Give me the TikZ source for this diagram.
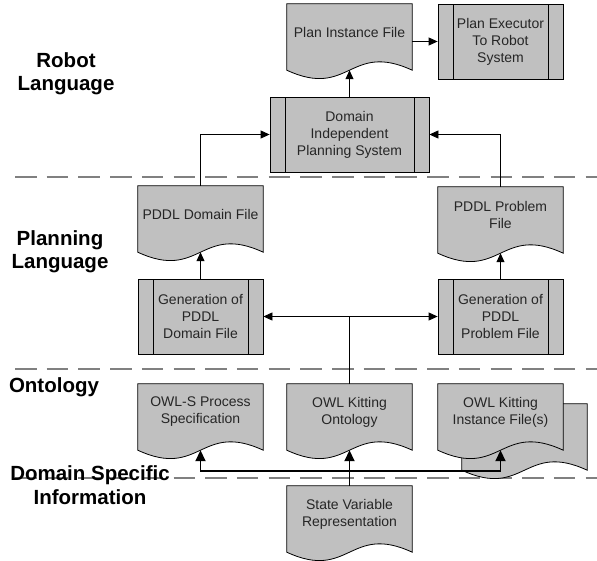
\documentclass[tikz,border=0pt]{standalone}
\usepackage{fontspec}
\setmainfont{Liberation Sans}
\usetikzlibrary{arrows.meta}
\pgfdeclarelayer{bg}
\pgfdeclarelayer{shp}
\pgfsetlayers{bg,shp,main}
\definecolor{shapefill}{HTML}{C0C0C0}
\definecolor{txtgrey}{HTML}{262626}
\definecolor{dashgrey}{HTML}{808080}
\tikzset{
  nodetext/.style={font=\fontsize{14}{17}\selectfont, text=txtgrey, align=center},
  docnode/.style={nodetext, minimum width=125pt, minimum height=56pt, inner sep=1pt},
  procnode/.style={nodetext, draw=black, fill=shapefill, line width=0.8pt,
    minimum width=125pt, minimum height=75pt, inner sep=0pt,
    path picture={\draw[line width=0.8pt]
      ([xshift=15pt]path picture bounding box.north west) -- ([xshift=15pt]path picture bounding box.south west)
      ([xshift=-15pt]path picture bounding box.north east) -- ([xshift=-15pt]path picture bounding box.south east);}},
  docsty/.style={draw=black, fill=shapefill, line width=0.8pt},
  lanelabel/.style={font=\bfseries\fontsize{20.5}{23.5}\selectfont, text=black, align=center},
  laneline/.style={draw=dashgrey, line width=2.3pt, dash pattern=on 21.5pt off 10.2pt},
  arr/.style={draw=black, line width=0.8pt, -{Triangle[length=9pt,width=8pt]}},
  arrboth/.style={draw=black, line width=0.8pt, {Triangle[length=9pt,width=8pt]}-{Triangle[length=9pt,width=8pt]}},
  plainline/.style={draw=black, line width=0.8pt},
  tarr/.style={draw=black, line width=1.8pt, -{Triangle[length=11pt,width=10pt]}},
}
\newcommand\docshape[2]{%
  \filldraw[docsty] ([shift={#2}]#1.north west) -- ([shift={#2}]#1.north east)
    -- ([shift={#2},yshift=-10pt]#1.south east)
    .. controls ([shift={#2},yshift=19pt]#1.south) and ([shift={#2},yshift=-39pt]#1.south)
    .. ([shift={#2},yshift=-10pt]#1.south west) -- cycle;}
\begin{document}
\begin{tikzpicture}[x=1pt,y=-1pt]
\useasboundingbox (0,0) rectangle (597,560);

% lane labels
\node[lanelabel] (lrobot) at (66,73.5) {Robot\\Language};
\node[lanelabel] (lplan) at (60,251.5) {Planning\\Language};
\node[lanelabel] (lonto) at (54,387) {Ontology};
\node[lanelabel] (ldom) at (90,485) {Domain Specific\\Information};

% document nodes (text)
\node[docnode] (pif) at (349.5,32) {Plan Instance File};
\node[docnode] (pddld) at (200.5,214) {PDDL Domain File};
\node[docnode] (pddlp) at (500.5,215) {PDDL Problem\\File};
\node[docnode] (owls) at (200.5,412) {OWL-S Process\\Specification};
\node[docnode] (owlk) at (349.5,412) {OWL Kitting\\Ontology};
\node[docnode] (owli) at (500.5,412) {OWL Kitting\\Instance File(s)};
\node[docnode] (svr) at (349.5,514) {State Variable\\Representation};

% process nodes
\node[procnode] (pe) at (500.5,41.5) {Plan Executor\\To Robot\\System};
\node[procnode, minimum width=159pt] (dips) at (349.5,134.5) {Domain\\Independent\\Planning System};
\node[procnode] (gend) at (200.5,316.5) {Generation of\\PDDL\\Domain File};
\node[procnode] (genp) at (500.5,316.5) {Generation of\\PDDL\\Problem File};

% lane separators
\begin{pgfonlayer}{bg}
\coordinate (sep1l) at (15,177); \coordinate (sep1r) at (597,177);
\coordinate (sep2l) at (15,369); \coordinate (sep2r) at (597,369);
\coordinate (sep3l) at (15,478); \coordinate (sep3r) at (597,478);
\draw[laneline] (sep1l) -- (sep1r);
\draw[laneline] (sep2l) -- (sep2r);
\draw[laneline] (sep3l) -- (sep3r);
\end{pgfonlayer}

% document outlines
\begin{pgfonlayer}{shp}
\docshape{pif}{(0,0)}
\docshape{pddld}{(0,0)}
\docshape{pddlp}{(0,0)}
\docshape{owls}{(0,0)}
\docshape{owlk}{(0,0)}
\docshape{owli}{(24pt,-20pt)}
\docshape{owli}{(0,0)}
\docshape{svr}{(0,0)}
\end{pgfonlayer}

% wave bottom points
\coordinate (pif-b) at ([yshift=-10pt]pif.south);
\coordinate (pddld-b) at ([yshift=-10pt]pddld.south);
\coordinate (pddlp-b) at ([yshift=-10pt]pddlp.south);
\coordinate (owls-b) at ([yshift=-10pt]owls.south);
\coordinate (owlk-b) at ([yshift=-10pt]owlk.south);
\coordinate (owli-b) at ([yshift=-10pt]owli.south);
\coordinate (j) at ([yshift=15pt]svr.north);

% connectors
\draw[arr] (pif.east |- pe.west) -- (pe.west);
\draw[arr] (dips.north) -- (pif-b);
\draw[arr] (pddld.north) |- (dips.west);
\draw[arr] (pddlp.north) |- (dips.east);
\draw[arr] (gend.north) -- (pddld-b);
\draw[arr] (genp.north) -- (pddlp-b);
\draw[arrboth] (gend.east) -- (genp.west);
\draw[plainline] (owlk.north) -- (owlk.north |- gend.east);
\draw[tarr] (j) -| (owls-b);
\draw[tarr] (j) -| (owli-b);
\draw[tarr] (svr.north) -- (owlk-b);
\end{tikzpicture}
\end{document}
